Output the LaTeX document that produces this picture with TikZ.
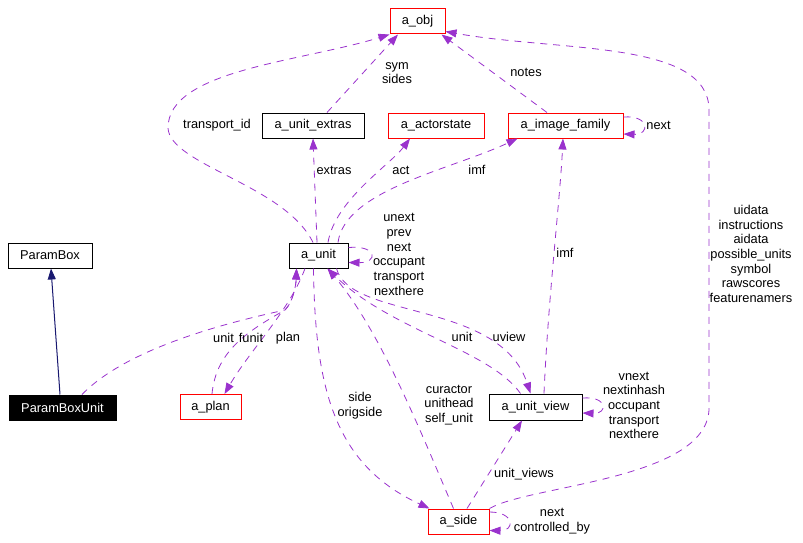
\documentclass[tikz,border=0pt]{standalone}
\usepackage{fontspec}
\setmainfont{Liberation Sans}
\usetikzlibrary{arrows.meta}
\definecolor{dxPurple}{HTML}{9A32CD}
\definecolor{dxNavy}{HTML}{191970}
\definecolor{dxRed}{HTML}{FF0000}
\newcommand{\dxfont}{\fontsize{12.8}{14.7}\selectfont}
\tikzset{
  >={Triangle[length=11pt,width=8pt]},
  cls/.style={draw=black, fill=white, line width=1pt, minimum height=25pt,
              inner sep=0pt, font=\dxfont},
  refcls/.style={cls, draw=dxRed},
  derived/.style={cls, fill=black, text=white},
  lbl/.style={align=center, inner sep=0pt, font=\dxfont},
  use/.style={->, draw=dxPurple, line width=0.8pt, dash pattern=on 7pt off 6pt},
  inherit/.style={->, draw=dxNavy, line width=1pt},
}

\begin{document}
\begin{tikzpicture}[x=1pt,y=-1pt]
    \useasboundingbox (0,0) rectangle (803,543);
    % classes
    \node[refcls,minimum width=55pt] (obj) at (417.5,21.5) {a\_obj};
    \node[cls,minimum width=102pt] (uextras) at (313,125.5) {a\_unit\_extras};
    \node[refcls,minimum width=96pt] (actor) at (436,125.5) {a\_actorstate};
    \node[refcls,minimum width=115pt] (imgfam) at (565.5,125.5) {a\_image\_family};
    \node[cls,minimum width=84pt] (pbox) at (50,255.5) {ParamBox};
    \node[cls,minimum width=59pt] (unit) at (318.5,255.5) {a\_unit};
    \node[derived,minimum width=107pt] (pbunit) at (62.5,407.5) {ParamBoxUnit};
    \node[refcls,minimum width=61pt] (plan) at (210.5,407) {a\_plan};
    \node[cls,minimum width=93pt,minimum height=26pt] (uview) at (535.5,407) {a\_unit\_view};
    \node[refcls,minimum width=61pt] (side) at (458.5,521.5) {a\_side};
    % inheritance
    \draw[inherit] ([xshift=-2.5pt]pbunit.north) -- ([xshift=1pt]pbox.south);
    % usage relations towards a_obj
    \draw[use] ([xshift=-5.5pt]unit.north) .. controls (285,185) and (170,165) .. (168,128)
               .. controls (168,70) and (300,62) .. (obj.south west);
    \draw[use] ([xshift=14pt]uextras.north) -- ([xshift=-19.5pt]obj.south);
    \draw[use] ([xshift=-18.5pt]imgfam.north) -- ([xshift=24pt]obj.south);
    \draw[use] (side.north east) .. controls (530,485) and (705,480) .. (709,410)
               -- (709,110) .. controls (709,40) and (560,52) .. ([yshift=3pt]obj.south east);
    % a_unit upwards
    \draw[use] ([xshift=-1.5pt]unit.north) -- (uextras.south);
    \draw[use] ([xshift=9.5pt]unit.north) .. controls (335,200) and (390,165) .. ([xshift=-26pt]actor.south);
    \draw[use] ([xshift=19.5pt]unit.north) .. controls (345,190) and (450,170) .. ([xshift=10pt]imgfam.south west);
    \draw[use] ([xshift=8.5pt]uview.north) .. controls (548,300) and (560,200) .. ([xshift=-2.5pt]imgfam.south);
    % self loops
    \draw[use] ([yshift=8pt]unit.east) .. controls (378,245) and (378,263) .. ([yshift=-7pt]unit.east);
    \draw[use] ([yshift=8.5pt]imgfam.east) .. controls (650,115) and (650,135) .. ([yshift=-8.5pt]imgfam.east);
    \draw[use] ([yshift=9pt]uview.east) .. controls (608,396) and (608,414) .. ([yshift=-6pt]uview.east);
    \draw[use] ([yshift=9.5pt]side.east) .. controls (515,512) and (515,531) .. ([yshift=-9pt]side.east);
    % lower part
    \draw[use] ([xshift=19.5pt]pbunit.north) .. controls (130,345) and (240,320) .. (285,310)
               .. controls (293,302) and (296,285) .. ([xshift=8pt]unit.south west);
    \draw[use] ([xshift=1.5pt]plan.north) .. controls (216,350) and (250,330) .. (285,310)
               .. controls (293,302) and (296,285) .. ([xshift=8pt]unit.south west);
    \draw[use] ([xshift=-13.5pt]unit.south) .. controls (290,310) and (250,350) .. ([xshift=14pt]plan.north);
    \draw[use] ([xshift=-5pt]unit.south) .. controls (315,390) and (335,465) .. ([xshift=2pt]side.north west);
    \draw[use] ([xshift=-5pt]side.north) .. controls (420,430) and (380,330) .. ([xshift=9pt]unit.south);
    \draw[use] ([xshift=-15pt]uview.north) .. controls (490,350) and (390,330) .. ([xshift=9pt]unit.south);
    \draw[use] ([xshift=18pt]unit.south) .. controls (350,320) and (500,300) .. ([xshift=-5pt]uview.north);
    \draw[use] ([xshift=8.5pt]side.north) -- ([xshift=-13.5pt]uview.south);
    % labels
    \node[lbl] (lTransport) at (217,125) {transport\_id};
    \node[lbl] (lSym) at (397,73) {sym\\sides};
    \node[lbl] (lNotes) at (526,72) {notes};
    \node[lbl] (lObjRight) at (751,254) {uidata\\instructions\\aidata\\possible\_units\\symbol\\rawscores\\featurenamers};
    \node[lbl] (lExtras) at (334,170) {extras};
    \node[lbl] (lAct) at (401,170) {act};
    \node[lbl] (lImf) at (477,170) {imf};
    \node[lbl] (lImfView) at (565,253) {imf};
    \node[lbl] (lFamNext) at (658.5,125) {next};
    \node[lbl] (lUnitLoop) at (399,254.5) {unext\\prev\\next\\occupant\\transport\\nexthere};
    \node[lbl] (lViewLoop) at (634,405.5) {vnext\\nextinhash\\occupant\\transport\\nexthere};
    \node[lbl] (lSideLoop) at (552,521.5) {next\\controlled\_by};
    \node[lbl] (lUnit) at (223.5,338) {unit};
    \node[lbl] (lFunit) at (251,338) {funit};
    \node[lbl] (lPlan) at (288,338) {plan};
    \node[lbl] (lSide) at (360,406) {side\\origside};
    \node[lbl] (lCuractor) at (449,405) {curactor\\unithead\\self\_unit};
    \node[lbl] (lViewUnit) at (462,337) {unit};
    \node[lbl] (lUview) at (509,337) {uview};
    \node[lbl] (lUnitViews) at (524,474) {unit\_views};
\end{tikzpicture}
\end{document}
